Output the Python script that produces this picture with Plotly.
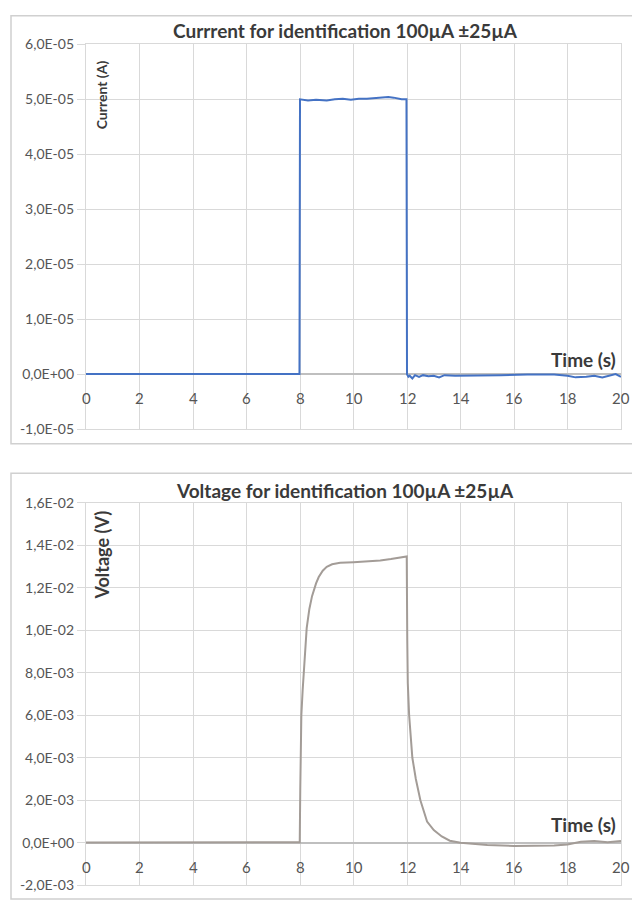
import plotly.graph_objects as go

# ---------------- data ----------------
t_current = [0, 2, 4, 6, 7.98, 8.0, 8.1, 8.3, 8.6, 9.0, 9.3, 9.6, 9.9, 10.2, 10.5, 10.8,
             11.1, 11.3, 11.5, 11.8, 11.98, 12.0, 12.05, 12.1, 12.2, 12.3, 12.45, 12.6,
             12.8, 13.0, 13.2, 13.4, 13.8, 14.5, 15.5, 16.5, 17.5, 18.0, 18.3, 18.7,
             19.0, 19.3, 19.6, 19.8, 20.0]
current = [0, 0, 0, 0, 0, 5.00e-5, 4.99e-5, 4.98e-5, 4.99e-5, 4.98e-5, 5.00e-5, 5.01e-5,
           4.99e-5, 5.01e-5, 5.01e-5, 5.02e-5, 5.03e-5, 5.04e-5, 5.03e-5, 5.00e-5, 5.00e-5,
           -0.05e-6, -0.5e-6, -0.3e-6, -0.8e-6, -0.2e-6, -0.5e-6, -0.2e-6, -0.4e-6, -0.3e-6,
           -0.6e-6, -0.2e-6, -0.3e-6, -0.3e-6, -0.2e-6, -0.1e-6, -0.1e-6, -0.3e-6, -0.6e-6,
           -0.5e-6, -0.3e-6, -0.6e-6, -0.3e-6, 0.0, -0.5e-6]

t_voltage = [0, 2, 4, 6, 7.99, 8.01, 8.02, 8.05, 8.1, 8.13, 8.2, 8.25, 8.35, 8.45, 8.6,
             8.7, 8.85, 9.0, 9.2, 9.5, 10.0, 10.5, 11.0, 11.4, 11.7, 11.99, 12.01, 12.03,
             12.08, 12.14, 12.2, 12.33, 12.5, 12.75, 13.0, 13.3, 13.6, 14.0, 15.0, 16.0,
             17.0, 17.5, 18.0, 18.5, 19.0, 19.5, 20.0]
voltage = [0.00002, 0.00002, 0.00004, 0.00003, 0.00003, 0.0025, 0.004, 0.006, 0.0072,
           0.0078, 0.0093, 0.0101, 0.0110, 0.0116, 0.0122, 0.0125, 0.0128, 0.01298,
           0.01310, 0.01317, 0.01320, 0.01323, 0.01328, 0.01335, 0.01342, 0.01347,
           0.0095, 0.0075, 0.0060, 0.0050, 0.0040, 0.0030, 0.0020, 0.0010, 0.0006,
           0.0003, 0.0001, 0.0, -0.0001, -0.00015, -0.00015, -0.00013, -0.00008,
           0.00005, 0.00008, 0.00003, 0.00008]

x_ticks = [0, 2, 4, 6, 8, 10, 12, 14, 16, 18, 20]
y1_ticks = [-1e-5, 0, 1e-5, 2e-5, 3e-5, 4e-5, 5e-5, 6e-5]
y1_text = ["-1,0E-05", "0,0E+00", "1,0E-05", "2,0E-05", "3,0E-05", "4,0E-05", "5,0E-05", "6,0E-05"]
y2_ticks = [-0.002, 0, 0.002, 0.004, 0.006, 0.008, 0.010, 0.012, 0.014, 0.016]
y2_text = ["-2,0E-03", "0,0E+00", "2,0E-03", "4,0E-03", "6,0E-03", "8,0E-03",
           "1,0E-02", "1,2E-02", "1,4E-02", "1,6E-02"]

title1 = "Currrent for identification 100µA ±25µA"
title2 = "Voltage for identification 100µA ±25µA"
ytitle1 = "Current (A)"
ytitle2 = "Voltage (V)"
xtitle = "Time (s)"

# ---------------- layout helpers ----------------
W, H = 632, 911
FONT = "Lato, 'Open Sans', 'Liberation Sans', sans-serif"
GRID = "#d9d9d9"
TICKC = "#555555"
TXT = "#3a3a3a"


def px(p):
    return p / W


def py(p):
    return 1 - p / H


fig = go.Figure()
fig.add_trace(go.Scatter(x=t_current, y=current, mode="lines",
                         line=dict(color="#4472C4", width=2), xaxis="x", yaxis="y",
                         showlegend=False))
fig.add_trace(go.Scatter(x=t_voltage, y=voltage, mode="lines",
                         line=dict(color="#a39c97", width=2), xaxis="x2", yaxis="y2",
                         showlegend=False))

xcommon = dict(range=[0, 20], dtick=2, tick0=0, showticklabels=False, showgrid=True,
               gridcolor=GRID, gridwidth=1.3, zeroline=False, showline=True, mirror=True,
               linecolor=GRID, linewidth=1.3, ticks="")
ycommon = dict(showgrid=True, gridcolor=GRID, gridwidth=1.3, zeroline=True,
               zerolinecolor="#bfbfbf", zerolinewidth=1.6, showline=True, mirror=True,
               linecolor=GRID, linewidth=1.3, ticks="outside", ticklen=8, tickcolor=GRID,
               tickwidth=1.3, tickfont=dict(family=FONT, size=14, color=TICKC))

fig.update_layout(
    width=W, height=H, margin=dict(l=0, r=0, t=0, b=0),
    paper_bgcolor="white", plot_bgcolor="white",
    xaxis=dict(domain=[px(86), px(621)], anchor="y", **xcommon),
    xaxis2=dict(domain=[px(86), px(621)], anchor="y2", **xcommon),
    yaxis=dict(domain=[py(428), py(36)], anchor="x", range=[-1e-5, 6e-5],
               tickvals=y1_ticks, ticktext=y1_text, **ycommon),
    yaxis2=dict(domain=[py(893), py(503)], anchor="x2", range=[-0.002, 0.016],
                tickvals=y2_ticks, ticktext=y2_text, **ycommon),
)

# panel frames
for (top, bot) in [(7, 443), (473, 907)]:
    fig.add_shape(type="rect", xref="paper", yref="paper", x0=px(11), x1=px(640),
                  y0=py(bot), y1=py(top), line=dict(color="#d0d0d0", width=1.5),
                  fillcolor="rgba(0,0,0,0)", layer="below")

ann = []
# titles
ann.append(dict(text=f"<b>{title1}</b>", xref="paper", yref="paper", x=px(345), y=py(22),
                xanchor="center", yanchor="middle", showarrow=False,
                font=dict(family=FONT, size=19, color=TXT)))
ann.append(dict(text=f"<b>{title2}</b>", xref="paper", yref="paper", x=px(345), y=py(491),
                xanchor="center", yanchor="middle", showarrow=False,
                font=dict(family=FONT, size=19, color=TXT)))
# y axis titles (inside plot)
ann.append(dict(text=f"<b>{ytitle1}</b>", xref="paper", yref="paper", x=px(101), y=py(88),
                xanchor="center", yanchor="middle", textangle=-90, showarrow=False,
                font=dict(family=FONT, size=14, color=TXT)))
ann.append(dict(text=f"<b>{ytitle2}</b>", xref="paper", yref="paper", x=px(102), y=py(557),
                xanchor="center", yanchor="middle", textangle=-90, showarrow=False,
                font=dict(family=FONT, size=18, color=TXT)))
# x tick labels below the zero line, and Time (s)
for xr, yr, tshift in [("x", "y", 1), ("x2", "y2", 5)]:
    for t in x_ticks:
        ann.append(dict(text=str(t), xref=xr, yref=yr, x=t, y=0, xanchor="center",
                        yanchor="top", yshift=-13, showarrow=False,
                        font=dict(family=FONT, size=15, color=TICKC)))
    ann.append(dict(text=f"<b>{xtitle}</b>", xref=xr, yref=yr, x=20, y=0, xanchor="right",
                    yanchor="bottom", xshift=-3, yshift=tshift, showarrow=False,
                    font=dict(family=FONT, size=19, color=TXT)))

fig.update_layout(annotations=ann)
fig.write_html("out.html")
